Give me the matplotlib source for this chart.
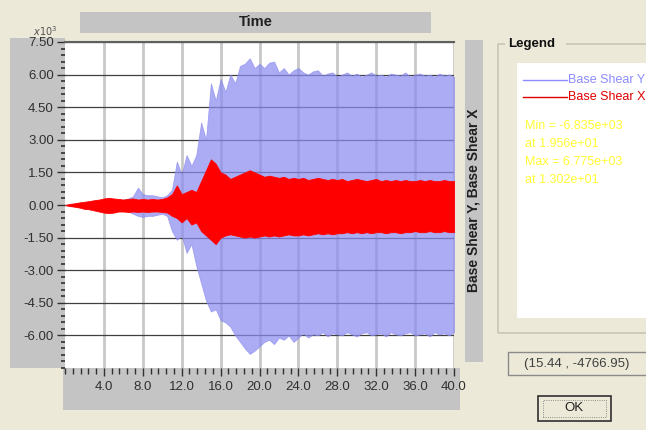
import numpy as np
import matplotlib
matplotlib.use("Agg")
import matplotlib.pyplot as plt
from matplotlib.patches import Rectangle
from matplotlib.ticker import MultipleLocator

plt.rcParams['font.family'] = ['Liberation Sans', 'DejaVu Sans']

# ==========================================
# data (envelope, x10^3, every 0.5 s)
# ==========================================
time_s = np.linspace(0, 40, 81)

shear_y_upper = [0.0, 0.03, 0.05, 0.08, 0.10, 0.10, 0.12, 0.12, 0.15, 0.18, 0.20, 0.22,
                 0.25, 0.30, 0.40, 0.80, 0.50, 0.45, 0.45, 0.40, 0.35, 0.45,
                 0.70, 2.00, 1.40, 2.30, 1.80, 2.30, 3.80, 3.00, 5.60, 4.80, 5.80, 5.20,
                 6.00, 5.60, 6.40, 6.50, 6.75, 6.30, 6.50, 6.30, 6.55, 6.60, 6.10, 6.30,
                 6.00, 6.20,
                 6.30, 6.10, 6.00, 6.15, 6.20, 5.95, 6.05, 6.10, 5.90, 6.00, 6.10, 5.95,
                 6.05, 5.90, 6.00, 6.10, 5.95, 6.00, 5.90, 6.05, 6.00, 5.95, 6.10, 5.90,
                 6.00, 6.05, 5.95, 6.00, 5.90, 6.05, 5.95, 6.00, 5.90]
shear_y_lower = [0.0, -0.03, -0.05, -0.08, -0.10, -0.10, -0.12, -0.12, -0.15, -0.18, -0.20, -0.22,
                 -0.25, -0.30, -0.40, -0.50, -0.55, -0.50, -0.50, -0.45, -0.40, -0.50,
                 -1.20, -1.60, -1.40, -2.20, -1.80, -2.80, -3.60, -4.40, -4.90, -4.80, -5.30, -5.40,
                 -5.60, -6.00, -6.30, -6.60, -6.85, -6.70, -6.50, -6.30, -6.20, -6.40, -6.10, -6.20,
                 -6.00, -6.30,
                 -6.10, -5.90, -6.10, -5.95, -6.00, -5.85, -6.05, -5.90, -5.95, -6.00, -5.85, -5.95,
                 -6.05, -5.90, -5.85, -6.00, -5.95, -5.90, -6.05, -5.85, -5.95, -6.00, -5.90, -5.85,
                 -6.00, -5.95, -5.90, -6.05, -5.85, -5.95, -5.90, -6.00, -5.85]
shear_x_upper = [0.0, 0.05, 0.08, 0.12, 0.15, 0.18, 0.22, 0.25, 0.30, 0.33, 0.30, 0.28,
                 0.25, 0.28, 0.30, 0.25, 0.28, 0.25, 0.28, 0.25, 0.28, 0.35,
                 0.50, 0.90, 0.50, 0.60, 0.70, 0.60, 1.10, 1.60, 2.10, 1.90, 1.50, 1.40,
                 1.20, 1.30, 1.40, 1.50, 1.60, 1.50, 1.40, 1.30, 1.35, 1.30, 1.25, 1.30,
                 1.20, 1.25,
                 1.20, 1.25, 1.15, 1.20, 1.25, 1.20, 1.15, 1.20, 1.15, 1.20, 1.10, 1.15,
                 1.20, 1.15, 1.10, 1.15, 1.20, 1.10, 1.15, 1.10, 1.15, 1.10, 1.15, 1.10,
                 1.10, 1.15, 1.10, 1.15, 1.10, 1.10, 1.15, 1.10, 1.10]
shear_x_lower = [0.0, -0.05, -0.08, -0.12, -0.18, -0.20, -0.25, -0.30, -0.35, -0.37, -0.35, -0.30,
                 -0.30, -0.32, -0.30, -0.32, -0.30, -0.32, -0.30, -0.30, -0.32, -0.35,
                 -0.50, -0.60, -0.80, -0.60, -0.90, -0.80, -1.20, -1.40, -1.60, -1.80, -1.50, -1.40,
                 -1.35, -1.40, -1.45, -1.50, -1.45, -1.50, -1.45, -1.40, -1.45, -1.40, -1.45, -1.40,
                 -1.35, -1.40,
                 -1.40, -1.35, -1.40, -1.35, -1.30, -1.35, -1.30, -1.35, -1.30, -1.30, -1.25, -1.30,
                 -1.25, -1.30, -1.25, -1.30, -1.25, -1.25, -1.30, -1.25, -1.25, -1.30, -1.25, -1.25,
                 -1.20, -1.25, -1.25, -1.20, -1.25, -1.25, -1.20, -1.25, -1.25]

x_ticks = [4, 8, 12, 16, 20, 24, 28, 32, 36, 40]
y_ticks = [-6.0, -4.5, -3.0, -1.5, 0.0, 1.5, 3.0, 4.5, 6.0, 7.5]
legend_names = ['Base Shear Y', 'Base Shear X']
legend_info = ['Min = -6.835e+03', 'at 1.956e+01', 'Max = 6.775e+03', 'at 1.302e+01']
cursor_text = '(15.44 , -4766.95)'

# ==========================================
# layout helpers (pixel coords, y from top)
# ==========================================
W, H = 646, 430
BEIGE = '#ece9d8'
GREY = '#c4c4c4'

fig = plt.figure(figsize=(W / 100, H / 100), dpi=100, facecolor=BEIGE)


def box(x0, y0, x1, y1, z=-5, **kw):
    fig.add_artist(Rectangle((x0 / W, 1 - y1 / H), (x1 - x0) / W, (y1 - y0) / H,
                             transform=fig.transFigure, zorder=z, **kw))


def text(x, y, s, **kw):
    fig.text(x / W, 1 - y / H, s, **kw)


# grey bands round the plot
box(80, 12, 431, 33, facecolor=GREY, edgecolor='none')
box(10, 38, 65, 368, facecolor=GREY, edgecolor='none')
box(63, 368, 460, 410, facecolor=GREY, edgecolor='none')
box(465, 40, 483, 362, facecolor=GREY, edgecolor='none')
text(256, 22, 'Time', fontsize=10.5, fontweight='bold',
     ha='center', va='center', color='#202020')
text(45, 31, r'$x10^3$', fontsize=7, ha='center', va='center', color='#505050')
text(474, 200, 'Base Shear Y, Base Shear X', fontsize=10, fontweight='bold',
     rotation=90, ha='center', va='center', color='#202020')

# legend group box
box(498, 44, 660, 333, facecolor='none', edgecolor='#c8c5b4', lw=1.2)
box(505, 36, 566, 52, z=-4, facecolor=BEIGE, edgecolor='none')
text(508, 44, 'Legend', fontsize=9.5, fontweight='bold', va='center', color='#101010')
box(517, 63, 660, 318, z=-4, facecolor='white', edgecolor='none')
fig.add_artist(plt.Line2D([523 / W, 567 / W], [1 - 80 / H] * 2, color='#8c8cff', lw=1))
fig.add_artist(plt.Line2D([523 / W, 567 / W], [1 - 97 / H] * 2, color='#e00000', lw=1))
text(568, 80, legend_names[0], fontsize=9, va='center', color='#8c8cff')
text(568, 97, legend_names[1], fontsize=9, va='center', color='#e00000')
for i, s in enumerate(legend_info):
    text(525, 126 + i * 18, s, fontsize=9, va='center', color='#ffff33')

# cursor readout and OK button
box(508, 352, 660, 375, facecolor=BEIGE, edgecolor='#8a8a8a', lw=1)
text(577, 364, cursor_text, fontsize=9.5, ha='center', va='center', color='#404040')
box(538, 396, 611, 421, facecolor=BEIGE, edgecolor='#303030', lw=1.2)
box(543, 400, 606, 417, z=-4, facecolor='none', edgecolor='#707070', lw=0.6, linestyle=':')
text(574, 408, 'OK', fontsize=9.5, ha='center', va='center', color='#202020')

# ==========================================
# main plot
# ==========================================
ax = fig.add_axes([65 / W, 1 - 368 / H, (454 - 65) / W, (368 - 42) / H])
ax.set_facecolor('white')
ax.fill_between(time_s, shear_y_lower, shear_y_upper, color='#8c8cf0', alpha=0.72,
                lw=0.6, zorder=1)
ax.fill_between(time_s, shear_x_lower, shear_x_upper, color='#ff0000', lw=0.6, zorder=3)

ax.set_xlim(0, 40)
ax.set_ylim(-7.5, 7.5)
ax.set_xticks(x_ticks)
ax.set_xticklabels([f'{v:.1f}' for v in x_ticks])
ax.set_yticks(y_ticks)
ax.set_yticklabels([f'{v:.2f}' for v in y_ticks])
ax.xaxis.set_minor_locator(MultipleLocator(0.8))
ax.yaxis.set_minor_locator(MultipleLocator(0.3))
ax.tick_params(axis='both', which='major', direction='out', color='#303030',
               labelcolor='#303030', labelsize=9.5, width=1)
ax.tick_params(axis='y', which='major', length=6, pad=2)
ax.tick_params(axis='y', which='minor', length=3, width=1.2, color='#303030')
ax.tick_params(axis='x', which='major', length=6, pad=3)
ax.tick_params(axis='x', which='minor', length=4, width=1, color='#303030')

ax.set_axisbelow(True)
ax.xaxis.grid(True, color='#c8c8c8', lw=2)
ax.yaxis.grid(True, color='#404040', lw=0.9)

for side in ['left', 'right', 'bottom']:
    ax.spines[side].set_visible(False)
ax.spines['top'].set_color('#606060')
ax.spines['top'].set_linewidth(1.5)

fig.savefig('out.png', dpi=100, facecolor=BEIGE)
